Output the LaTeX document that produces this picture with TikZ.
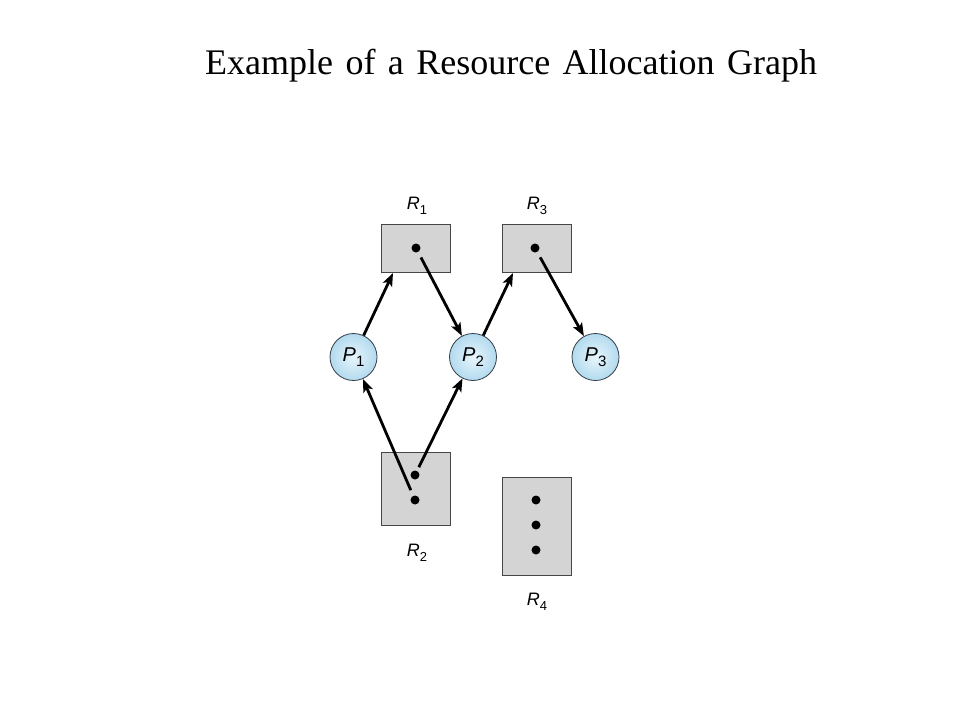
\documentclass[tikz,border=0pt]{standalone}
\usepackage{fontspec}
\setmainfont{Liberation Serif}
\newfontfamily\helv{Liberation Sans}
\usetikzlibrary{arrows.meta}
\definecolor{boxfill}{RGB}{212,212,212}
\definecolor{boxline}{RGB}{70,70,70}
\definecolor{pin}{RGB}{232,245,252}
\definecolor{pout}{RGB}{178,218,238}
\definecolor{pline}{RGB}{50,60,70}
\newcommand{\sbs}[1]{\raisebox{-0.3em}{\fontsize{13}{13}\selectfont #1}}
\tikzset{
  resbox/.style={draw=boxline, fill=boxfill, line width=0.9pt, inner sep=0pt},
  proc/.style={circle, draw=pline, line width=0.8pt, inner color=pin, outer color=pout,
    minimum size=47pt, inner sep=0pt, font=\helv\fontsize{20}{20}\selectfont},
  rlabel/.style={font=\helv\fontsize{18}{18}\selectfont},
  tok/.style={circle, fill=black, minimum size=9pt, inner sep=0pt},
  arrowedge/.style={line width=2.8pt, -{Stealth[length=13pt,width=10pt,inset=3pt]}},
}
\begin{document}
\begin{tikzpicture}[x=1pt,y=-1pt]
\useasboundingbox (0,0) rectangle (960,720);
\node[anchor=base west, inner sep=0pt, font=\fontsize{36}{36}\selectfont] (title) at (205,74) {\spaceskip=12.4pt Example of a Resource Allocation Graph};
% resources
\node[resbox, minimum width=69pt, minimum height=48pt] (R1) at (415.5,248) {};
\node[resbox, minimum width=69pt, minimum height=48pt] (R3) at (536.5,248) {};
\node[resbox, minimum width=69pt, minimum height=73pt] (R2) at (415.5,488.5) {};
\node[resbox, minimum width=69pt, minimum height=98pt] (R4) at (536.5,526) {};
% tokens
\node[tok] (t1) at (416,248) {};
\node[tok] (t3) at (535,248) {};
\node[tok] (t2a) at (415,475) {};
\node[tok] (t2b) at (415,500) {};
\node[tok] (t4a) at (536,500) {};
\node[tok] (t4b) at (536,525) {};
\node[tok] (t4c) at (536,550) {};
% labels
\node[rlabel] (l1) at (417,206) {\textit{R}\sbs{1}};
\node[rlabel] (l3) at (537,206) {\textit{R}\sbs{3}};
\node[rlabel] (l2) at (417,553) {\textit{R}\sbs{2}};
\node[rlabel] (l4) at (537,602) {\textit{R}\sbs{4}};
% processes
\node[proc] (P1) at (353.5,357) {\textit{P}\raisebox{-0.25em}{\fontsize{15}{15}\selectfont 1}};
\node[proc] (P2) at (473,357) {\textit{P}\raisebox{-0.25em}{\fontsize{15}{15}\selectfont 2}};
\node[proc] (P3) at (595.5,357) {\textit{P}\raisebox{-0.25em}{\fontsize{15}{15}\selectfont 3}};
% edges
\coordinate (r1in) at (393,273);
\coordinate (r3in) at (513,273);
\draw[arrowedge] (P1) -- (r1in);
\draw[arrowedge] (P2) -- (r3in);
\draw[arrowedge, shorten <=6pt] (t1) -- (P2);
\draw[arrowedge, shorten <=6pt] (t3) -- (P3);
\draw[arrowedge, shorten <=6pt] (t2b) -- (P1);
\draw[arrowedge, shorten <=4pt] (t2a) -- (P2);
\end{tikzpicture}
\end{document}
